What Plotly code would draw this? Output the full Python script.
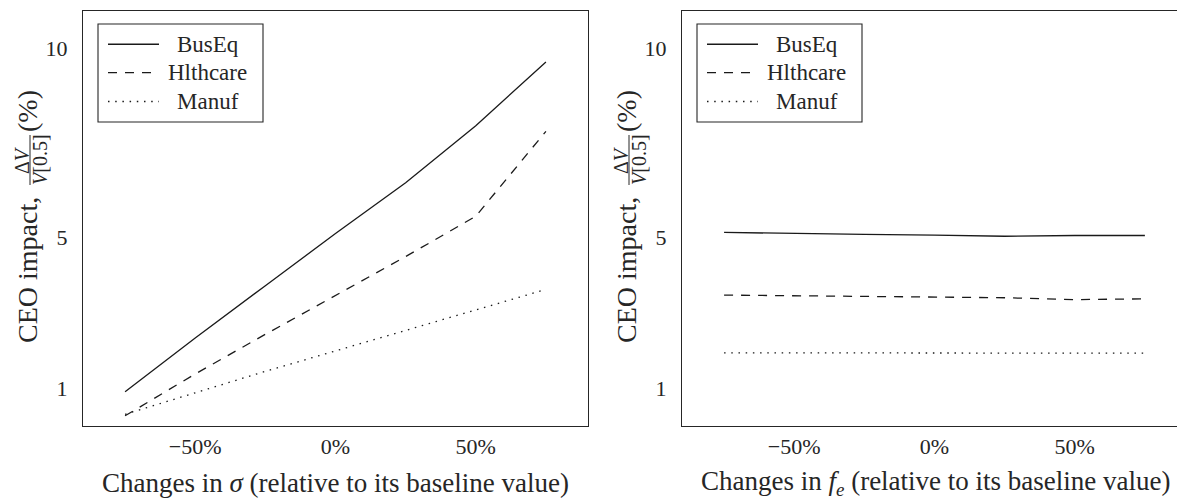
import plotly.graph_objects as go

# ---------------- data ----------------
x_changes = [-75, -50, -25, 0, 25, 50, 75]          # % change relative to baseline
sectors = ["BusEq", "Hlthcare", "Manuf"]

sigma_buseq = [0.91, 2.33, 3.72, 5.10, 6.45, 7.96, 9.65]
sigma_hlthcare = [0.27, 1.38, 2.43, 3.47, 4.49, 5.56, 7.81]
sigma_manuf = [0.31, 0.89, 1.45, 1.99, 2.53, 3.09, 3.62]

fe_buseq = [5.13, 5.10, 5.08, 5.06, 5.03, 5.05, 5.05]
fe_hlthcare = [3.47, 3.45, 3.44, 3.42, 3.40, 3.35, 3.37]
fe_manuf = [1.94, 1.94, 1.94, 1.93, 1.93, 1.93, 1.93]

y_tick_vals = [1, 5, 10]
x_tick_vals = [-50, 0, 50]
x_tick_text = ["\u221250%", "0%", "50%"]

x_titles = ["Changes in <i>\u03c3</i> (relative to its baseline value)",
            "Changes in <i>f<sub>e</sub></i> (relative to its baseline value)"]

# ---------------- styling ----------------
OFF = 8                      # page body margin of the html page
W, H = 1185 - OFF, 500 - OFF
L, R, T, B = 83 - OFF, 0, 11 - OFF, 74
PW, PH = W - L - R, H - T - B
FONT = "Liberation Serif"
INK = "#262626"
LINE_INK = "#1a1a1a"
dashes = ["solid", "9px,8px", "1.5px,5.7px"]


def px(p):
    """page x pixel -> paper coordinate"""
    return (p - OFF - L) / PW


def py(p):
    """page y pixel -> paper coordinate"""
    return (T + PH - (p - OFF)) / PH


frames = [83, 682]          # left edge of each panel (page pixels)
dom1 = [0.0, px(588)]
dom2 = [px(682), 1.0]

fig = go.Figure()

panels = [
    ("x", "y", [sigma_buseq, sigma_hlthcare, sigma_manuf]),
    ("x2", "y2", [fe_buseq, fe_hlthcare, fe_manuf]),
]
for xa, ya, series in panels:
    for name, vals, dash in zip(sectors, series, dashes):
        fig.add_trace(go.Scatter(
            x=x_changes, y=vals, mode="lines", name=name,
            line=dict(color=LINE_INK, width=1.3, dash=dash),
            xaxis=xa, yaxis=ya, showlegend=False, hoverinfo="x+y+name"))

axis_common = dict(showgrid=False, zeroline=False, showline=True,
                   linecolor=INK, linewidth=1.2, ticks="outside",
                   tickcolor="rgba(0,0,0,0)",
                   tickfont=dict(family=FONT, size=22, color=INK))

fig.update_layout(
    width=W, height=H,
    margin=dict(l=L, r=R, t=T, b=B, pad=0),
    plot_bgcolor="white", paper_bgcolor="white",
    font=dict(family=FONT, color=INK),
    showlegend=False,
    xaxis=dict(domain=dom1, range=[-90, 90], tickvals=x_tick_vals,
               ticktext=x_tick_text, mirror=True, ticklen=0, anchor="y",
               **axis_common),
    yaxis=dict(range=[0, 11], tickvals=y_tick_vals, mirror=True,
               ticklen=10, anchor="x", **axis_common),
    xaxis2=dict(domain=dom2, range=[-90, 89.3], tickvals=x_tick_vals,
                ticktext=x_tick_text, mirror=True, ticklen=0, anchor="y2",
                **axis_common),
    yaxis2=dict(range=[0, 11], tickvals=y_tick_vals, mirror=False,
                ticklen=10, anchor="x2", **axis_common),
)

annotations = []
shapes = []

# x-axis titles
for F, centre, title in zip(frames, [335.5, 936], x_titles):
    annotations.append(dict(text=title, x=px(centre), y=py(483),
                            xref="paper", yref="paper", showarrow=False,
                            xanchor="center", yanchor="middle",
                            font=dict(family=FONT, size=27, color=INK)))

# y-axis titles built from pieces: "CEO impact,", fraction, "(%)"
for F in frames:
    annotations.append(dict(text="CEO impact,", x=px(F - 56), y=py(270),
                            xref="paper", yref="paper", showarrow=False,
                            textangle=-90, xanchor="center", yanchor="middle",
                            font=dict(family=FONT, size=28, color=INK)))
    annotations.append(dict(text="\u0394<i>V</i>", x=px(F - 61), y=py(160),
                            xref="paper", yref="paper", showarrow=False,
                            textangle=-90, xanchor="center", yanchor="middle",
                            font=dict(family=FONT, size=20, color=INK)))
    annotations.append(dict(text="<i>V</i>[0.5]", x=px(F - 43), y=py(160),
                            xref="paper", yref="paper", showarrow=False,
                            textangle=-90, xanchor="center", yanchor="middle",
                            font=dict(family=FONT, size=20, color=INK)))
    shapes.append(dict(type="line", xref="paper", yref="paper",
                       x0=px(F - 53), x1=px(F - 53), y0=py(185), y1=py(135),
                       line=dict(color=INK, width=1)))
    annotations.append(dict(text="(%)", x=px(F - 56), y=py(111),
                            xref="paper", yref="paper", showarrow=False,
                            textangle=-90, xanchor="center", yanchor="middle",
                            font=dict(family=FONT, size=28, color=INK)))

# legends (one box per panel, matplotlib style)
row_y = [44.3, 72.7, 101.5]
for F in frames:
    off = F - 83
    shapes.append(dict(type="rect", xref="paper", yref="paper",
                       x0=px(98 + off), x1=px(263 + off),
                       y0=py(24), y1=py(122),
                       line=dict(color=INK, width=1.1),
                       fillcolor="white", layer="above"))
    for name, dash, ry in zip(sectors, dashes, row_y):
        shapes.append(dict(type="line", xref="paper", yref="paper",
                           x0=px(108 + off), x1=px(159 + off),
                           y0=py(ry), y1=py(ry), layer="above",
                           line=dict(color=LINE_INK,
                                     width=1.6 if dash == "solid" else 1.3,
                                     dash=dash)))
        annotations.append(dict(text=name, x=px(207.5 + off), y=py(ry),
                                xref="paper", yref="paper", showarrow=False,
                                xanchor="center", yanchor="middle",
                                font=dict(family=FONT, size=23, color=INK)))

fig.update_layout(annotations=annotations, shapes=shapes)

fig.write_html("out.html")
